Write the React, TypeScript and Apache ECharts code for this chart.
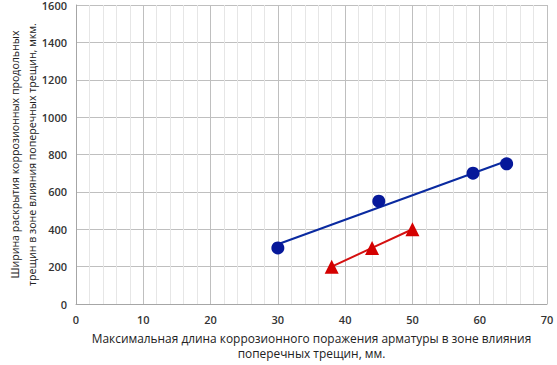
import React, { useEffect, useRef } from "react";
import * as echarts from "echarts";

const blueX = [30, 45, 59, 64];
const blueY = [300, 550, 700, 750];
const blueTrendX = [30, 64];
const blueTrendY = [320, 765];
const redX = [38, 44, 50];
const redY = [200, 300, 400];

const xName = "Максимальная длина коррозионного поражения арматуры в зоне влияния\nпоперечных трещин, мм.";
const yName = "Ширина раскрытия коррозионных продольных\nтрещин в зоне влияния поперечных трещин, мкм.";

const FONT = "'Open Sans', sans-serif";

export default function App() {
  const ref = useRef<HTMLDivElement>(null);
  useEffect(() => {
    if (!ref.current) return;
    const chart = echarts.init(ref.current, null, { renderer: "svg" });
    const pairs = (xs: number[], ys: number[]) => xs.map((x, i) => [x, ys[i]]);
    chart.setOption({
      animation: false,
      grid: { left: 76, right: 10, top: 5, bottom: 61, containLabel: false, outerBoundsMode: "none" },
      xAxis: {
        type: "value",
        min: 0,
        max: 70,
        interval: 10,
        name: xName,
        nameLocation: "middle",
        nameGap: 26,
        nameMoveOverlap: false,
        nameTextStyle: { fontFamily: FONT, fontSize: 11.9, color: "#222", lineHeight: 15 },
        axisLine: { show: true, lineStyle: { color: "#a6a6a6" } },
        axisTick: { show: false },
        axisLabel: { fontFamily: FONT, fontSize: 11, color: "#333", fontWeight: 600, margin: 10, formatter: (v: number) => String(v) },
        splitLine: { show: true, lineStyle: { color: "#bfbfbf" } },
        minorTick: { show: false, splitNumber: 5 },
        minorSplitLine: { show: true, lineStyle: { color: "#e6e6e6" } },
      },
      yAxis: {
        type: "value",
        min: 0,
        max: 1600,
        interval: 200,
        name: yName,
        nameLocation: "middle",
        nameGap: 36,
        nameMoveOverlap: false,
        nameTextStyle: { fontFamily: FONT, fontSize: 10.6, color: "#222", lineHeight: 17 },
        axisLine: { show: true, lineStyle: { color: "#a6a6a6" } },
        axisTick: { show: false },
        axisLabel: { fontFamily: FONT, fontSize: 11, color: "#333", fontWeight: 600, margin: 9, formatter: (v: number) => String(v) },
        splitLine: { show: true, lineStyle: { color: "#bfbfbf" } },
      },
      series: [
        {
          type: "line",
          data: pairs(blueTrendX, blueTrendY),
          symbol: "none",
          lineStyle: { color: "#0a2aa0", width: 2 },
          z: 2,
        },
        {
          type: "scatter",
          data: pairs(blueX, blueY),
          symbol: "circle",
          symbolSize: 13,
          itemStyle: { color: "#06189a", opacity: 1 },
          z: 3,
        },
        {
          type: "line",
          data: pairs(redX, redY),
          symbol: "none",
          lineStyle: { color: "#d41010", width: 2 },
          z: 2,
        },
        {
          type: "scatter",
          data: pairs(redX, redY),
          symbol: "triangle",
          symbolSize: 14,
          itemStyle: { color: "#d40000", opacity: 1 },
          z: 3,
        },
      ],
    });
    return () => chart.dispose();
  }, []);
  return <div ref={ref} style={{ width: 557, height: 365, position: "absolute", left: 0, top: 0 }} />;
}
